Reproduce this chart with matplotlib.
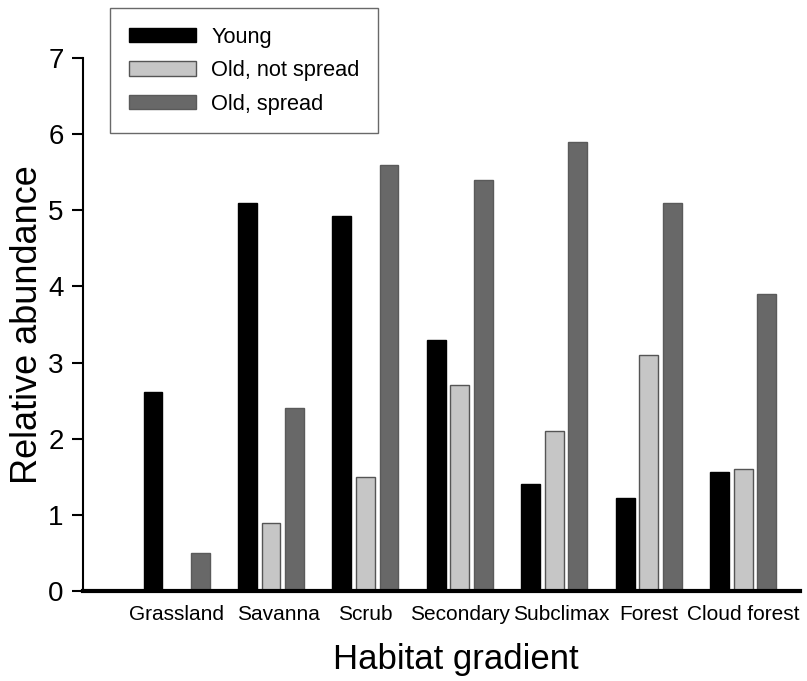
import numpy as np
import matplotlib
matplotlib.use('Agg')
import matplotlib.pyplot as plt

plt.rcParams['font.family'] = ['Liberation Sans', 'DejaVu Sans']

habitats = ['Grassland', 'Savanna', 'Scrub', 'Secondary', 'Subclimax', 'Forest', 'Cloud forest']
young = [2.62, 5.1, 4.92, 3.3, 1.4, 1.22, 1.57]
old_not_spread = [0, 0.9, 1.5, 2.7, 2.1, 3.1, 1.6]
old_spread = [0.5, 2.4, 5.6, 5.4, 5.9, 5.1, 3.9]

# labels in the original are not exactly centred under the groups
label_shift = [0, 0.08, 0, 0, 0.07, 0, 0]

fig = plt.figure(figsize=(8.07, 6.81), dpi=100)
ax = fig.add_axes([0.103, 0.132, 0.888, 0.783])

x = np.arange(len(habitats))
w = 0.2
step = 0.25
ax.bar(x - step, young, w, color='black', edgecolor='black', label='Young')
nsp = ax.bar(x, old_not_spread, w, color='#c6c6c6', edgecolor='#555555', linewidth=1.0,
             label='Old, not spread')
for b, v in zip(nsp, old_not_spread):
    if v == 0:
        b.set_linewidth(0)
ax.bar(x + step, old_spread, w, color='#686868', edgecolor='#5a5a5a', label='Old, spread')

ax.set_xlim(-0.99, 6.6)
ax.set_ylim(0, 7)
ax.set_yticks(range(0, 8))
ax.set_xticks(x + np.array(label_shift))
ax.set_xticklabels(habitats, fontsize=15)
ax.tick_params(axis='y', labelsize=20, direction='out', length=8, width=1.5, pad=6)
ax.tick_params(axis='x', length=0, pad=10)
ax.spines['top'].set_visible(False)
ax.spines['right'].set_visible(False)
ax.spines['left'].set_linewidth(1.5)
ax.spines['bottom'].set_linewidth(3)
ax.set_ylabel('Relative abundance', fontsize=26, labelpad=2)
ax.set_xlabel('Habitat gradient', fontsize=25)
ax.xaxis.set_label_coords(0.52, -0.098)

leg = ax.legend(loc='upper left', bbox_to_anchor=(110 / 807, 1 - 8 / 681),
                bbox_transform=fig.transFigure, fontsize=15.7, frameon=True,
                fancybox=False, edgecolor='#444444', handlelength=3.1, handleheight=0.65,
                borderpad=0.85, labelspacing=0.58, handletextpad=0.7, borderaxespad=0)
leg.get_frame().set_linewidth(1.0)
leg.legend_handles[1].set_edgecolor('#555555')
leg.legend_handles[1].set_linewidth(1.0)

fig.savefig('out.png', dpi=100)
